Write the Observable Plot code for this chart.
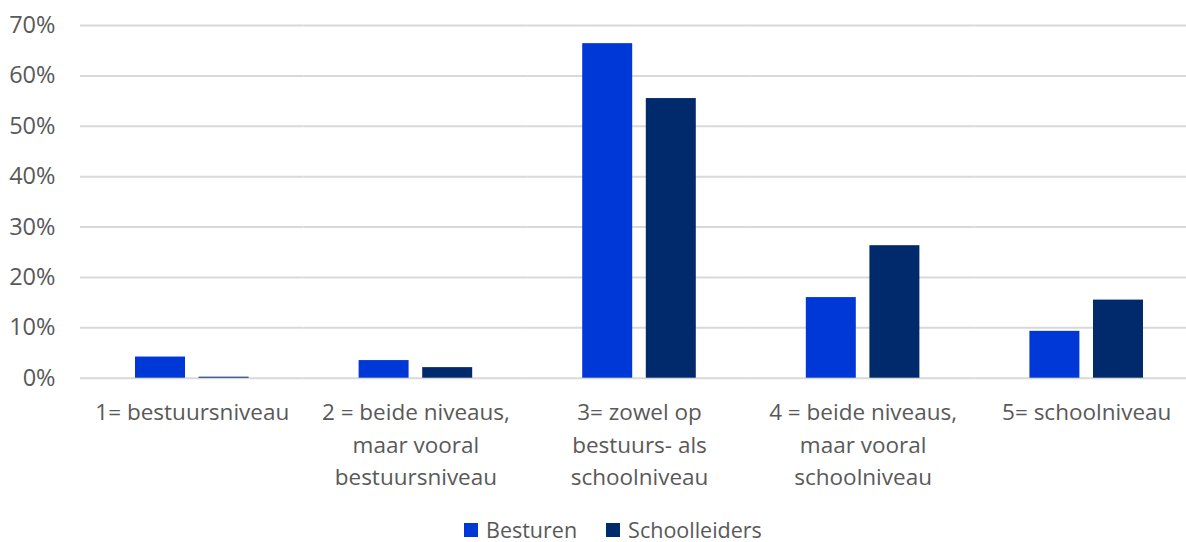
<!DOCTYPE html>
<html>
<head>
<meta charset="utf-8">
<script src="https://cdn.jsdelivr.net/npm/d3@7"></script>
<script src="https://cdn.jsdelivr.net/npm/@observablehq/plot@0.6"></script>
<style>
  html, body { margin: 0; padding: 0; background: #fff; overflow: hidden; }
  #chart svg { display: block; max-width: none !important; }
  .legend { display: flex; align-items: center; height: 22px; margin-top: 9px; padding-left: 464px;
            font-family: "Open Sans", sans-serif; font-size: 21.5px; line-height: 1; color: #595959; }
  .legend .item { display: flex; align-items: center; margin-right: 29px; }
  .legend .swatch { width: 14px; height: 14px; margin-right: 8px; }
</style>
</head>
<body>
<div id="chart"></div>
<script>
// Categories on the x axis (line breaks as drawn under each group)
const categories = [
  "1= bestuursniveau",
  "2 = beide niveaus,\nmaar vooral\nbestuursniveau",
  "3= zowel op\nbestuurs- als\nschoolniveau",
  "4 = beide niveaus,\nmaar vooral\nschoolniveau",
  "5= schoolniveau"
];
const series = ["Besturen", "Schoolleiders"];
const colors = ["#0038d8", "#002a6c"];

// Percentages per category
const besturen = [4.2, 3.5, 66.4, 16.0, 9.3];
const schoolleiders = [0.2, 2.1, 55.5, 26.3, 15.5];

const yTicks = [0, 10, 20, 30, 40, 50, 60, 70];

const rows = categories.flatMap((c, i) => [
  {category: c, series: series[0], value: besturen[i]},
  {category: c, series: series[1], value: schoolleiders[i]}
]);

const chart = Plot.plot({
  width: 1198,
  height: 510,
  marginLeft: 80,
  marginRight: 0,
  marginTop: 25,
  marginBottom: 132.3,
  style: {fontFamily: "'Open Sans', sans-serif", fontSize: "22.5px", color: "#595959", background: "#fff", maxWidth: "none"},
  fx: {domain: categories, padding: 0, label: null, round: false},
  x: {domain: series, paddingInner: 0.214, paddingOuter: 0.865, axis: null, round: false},
  y: {domain: [0, 70], label: null},
  color: {domain: series, range: colors},
  marks: [
    Plot.gridY(yTicks, {stroke: "#d9d9d9", strokeOpacity: 1, strokeWidth: 2}),
    Plot.barY(rows, {fx: "category", x: "series", y: "value", fill: "series"}),
    Plot.axisY(yTicks, {tickSize: 0, tickPadding: 25, fontSize: 23.5, tickFormat: d => d + "%", label: null, fill: "#595959"}),
    Plot.axisFx({anchor: "bottom", tickSize: 0, tickPadding: 19, lineHeight: 1.444, label: null, fill: "#595959"})
  ]
});

document.getElementById("chart").appendChild(chart);

// Legend below the chart
const legend = document.createElement("div");
legend.className = "legend";
series.forEach((s, i) => {
  const item = document.createElement("div");
  item.className = "item";
  const sw = document.createElement("div");
  sw.className = "swatch";
  sw.style.background = colors[i];
  const label = document.createElement("span");
  label.textContent = s;
  item.appendChild(sw);
  item.appendChild(label);
  legend.appendChild(item);
});
document.body.appendChild(legend);
</script>
</body>
</html>
